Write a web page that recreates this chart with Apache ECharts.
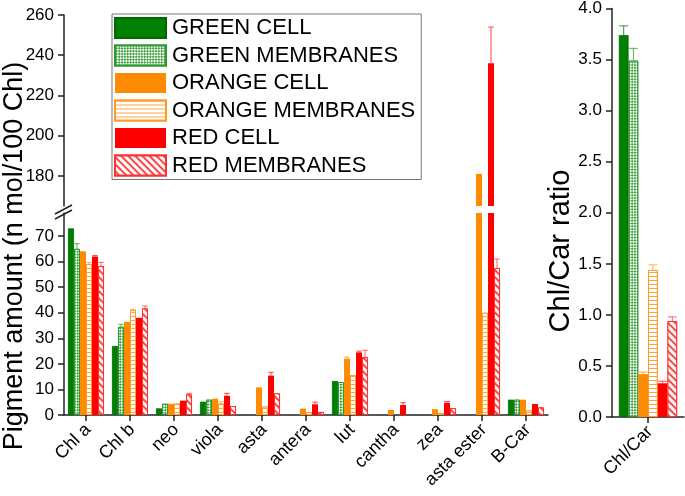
<!DOCTYPE html>
<html>
<head>
<meta charset="utf-8">
<script src="https://cdn.jsdelivr.net/npm/echarts@6/dist/echarts.min.js"></script>
<style>html,body{margin:0;padding:0;background:#fff}#c{width:685px;height:496px}</style>
</head>
<body>
<div id="c"></div>
<script>
// ---- data ----
const categories = ['Chl a','Chl b','neo','viola','asta','antera','lut','cantha','zea','asta ester','B-Car'];
const seriesNames = ['GREEN CELL','GREEN MEMBRANES','ORANGE CELL','ORANGE MEMBRANES','RED CELL','RED MEMBRANES'];
const greenCell   = [73, 27, 2.6, 5.2, 0, 0, 13.3, 0, 0, 0, 6.0];
const greenMem    = [65, 34.5, 4.4, 6.0, 0, 0, 12.9, 0, 0, 0, 6.0];
const orangeCell  = [64, 36.4, 4.4, 6.4, 10.8, 2.5, 22, 2.0, 2.3, 181, 6.0];
const orangeMem   = [59, 41, 4.5, 4.5, 3.3, 1.2, 15.6, 0, 0.8, 40, 1.8];
const redCell     = [62, 38, 5.6, 7.5, 15.4, 4.2, 24.5, 3.9, 4.8, 236, 4.3];
const redMem      = [58.3, 41.7, 8.1, 3.5, 8.5, 1.2, 22.7, 0, 2.7, 57.5, 3.0];
// upper error amounts (null = no error bar shown)
const greenCellErr  = [null,null,null,null,null,null,null,null,null,null,null];
const greenMemErr   = [2.0, 1.0, null,null,null,null,null,null,null,null,null];
const orangeCellErr = [null,null,null,null,null,null,0.6,null,null,null,null];
const orangeMemErr  = [0.6, 0.3, null,0.7,null,null,null,null,null,null,null];
const redCellErr    = [0.4, null,null,1.0,1.3,0.8,0.5,0.9,0.5,18,null];
const redMemErr     = [1.4, 0.9, 0.4,null,null,null,2.6,null,null,3.5,null];
const ratioCategories = ['Chl/Car'];
const ratioValues = [3.74, 3.49, 0.42, 1.44, 0.33, 0.94];
const ratioErr    = [0.09, 0.12, 0.02, 0.05, 0.02, 0.04];
const upperTicks = [180, 200, 220, 240, 260];
const lowerTicks = [0, 10, 20, 30, 40, 50, 60, 70];

const values = [greenCell, greenMem, orangeCell, orangeMem, redCell, redMem];
const errors = [greenCellErr, greenMemErr, orangeCellErr, orangeMemErr, redCellErr, redMemErr];

// ---- styles ----
const FONT = '"Liberation Sans", Arial, sans-serif';
const styles = [
  {color:'#008000', borderColor:'#006a00', borderWidth:0.8},
  {color:'#ffffff', borderColor:'#2e9a2e', borderWidth:1,
   decal:{symbol:'rect', color:'#3aa03a', backgroundColor:'#ffffff', dashArrayX:[[1.2,1.2],[0,1.2,1.2,0]], dashArrayY:[1.2,0], rotation:Math.PI/4}},
  {color:'#ff8c00'},
  {color:'#ffffff', borderColor:'#ff9a2a', borderWidth:1,
   decal:{symbol:'rect', color:'#ffa640', backgroundColor:'#ffffff', dashArrayX:[1,0], dashArrayY:[1,3], rotation:0}},
  {color:'#ff0000'},
  {color:'#ffffff', borderColor:'#ff3030', borderWidth:1,
   decal:{symbol:'rect', color:'#ff4545', backgroundColor:'#ffffff', dashArrayX:[1,0], dashArrayY:[1.2,3], rotation:Math.PI/4}}
];
const errColors = ['#3a8f3a','#5aaa5a','#ff9d3a','#ffb060','#ff4040','#ff6060'];

const LEFT_GAP = 0.18, RIGHT_GAP = 0.19;

function errRender(gap) {
  return function (params, api) {
    const cat = api.value(0), s = api.value(1), v = api.value(2), e = api.value(3);
    const base = api.coord([cat, v]);
    const top = api.coord([cat, v + e]);
    const bandW = api.size([1, 0])[0];
    const bw = bandW * (1 - gap) / 6;
    const x = base[0] + (s - 2.5) * bw;
    const c = errColors[s];
    return {type:'group', children:[
      {type:'line', shape:{x1:x, y1:base[1], x2:x, y2:top[1]}, style:{stroke:c, lineWidth:1}},
      {type:'line', shape:{x1:x - bw*0.45, y1:top[1], x2:x + bw*0.45, y2:top[1]}, style:{stroke:c, lineWidth:1}}
    ]};
  };
}

const series = [];
seriesNames.forEach((name, i) => {
  series.push({name, type:'bar', xAxisIndex:0, yAxisIndex:0, barGap:'0%', barCategoryGap:(LEFT_GAP*100)+'%',
    itemStyle:styles[i], data: values[i].map(v => v >= 165 ? v : '-'), silent:true});
  series.push({name, type:'bar', xAxisIndex:1, yAxisIndex:1, barGap:'0%', barCategoryGap:(LEFT_GAP*100)+'%',
    itemStyle:styles[i], data: values[i].map(v => v > 0 ? v : '-'), silent:true});
  series.push({name, type:'bar', xAxisIndex:2, yAxisIndex:2, barGap:'0%', barCategoryGap:(RIGHT_GAP*100)+'%',
    itemStyle:styles[i], data:[ratioValues[i]], silent:true});
});

const errUpper = [], errLower = [], errRight = [];
values.forEach((arr, s) => arr.forEach((v, c) => {
  const e = errors[s][c];
  if (e == null) return;
  if (v >= 165) errUpper.push([c, s, v, e]);
  else if (v + e <= 79) errLower.push([c, s, v, e]);
}));
ratioValues.forEach((v, s) => errRight.push([0, s, v, ratioErr[s]]));

series.push({type:'custom', name:'err1', xAxisIndex:0, yAxisIndex:0, renderItem:errRender(LEFT_GAP), data:errUpper, encode:{x:0, y:2}, z:5, silent:true});
series.push({type:'custom', name:'err2', xAxisIndex:1, yAxisIndex:1, renderItem:errRender(LEFT_GAP), data:errLower, encode:{x:0, y:2}, z:5, silent:true});
series.push({type:'custom', name:'err3', xAxisIndex:2, yAxisIndex:2, renderItem:errRender(RIGHT_GAP), data:errRight, encode:{x:0, y:2}, z:5, silent:true});

const axisLine = {show:true, lineStyle:{color:'#222', width:1.5}};
const tickStyle = {lineStyle:{color:'#222', width:1.5}};
const labelStyle = {color:'#000', fontSize:17, fontFamily:FONT};

// tick-only axes: points at half-category steps, ticks shown at category centres
const halfSteps = n => Array.from({length: 2 * n + 1}, (_, i) => String(i));
const centreTicks = (grid, n) => ({
  gridIndex:grid, type:'category', position:'bottom', boundaryGap:false, data:halfSteps(n),
  axisLine:{show:false}, axisLabel:{show:false}, splitLine:{show:false},
  axisTick:{show:true, length:6, interval:(idx) => idx % 2 === 1, lineStyle:{color:'#222', width:1.5}}
});

const baseGraphics = [
  {id:'ytitle', type:'text', x:15, y:256, rotation:Math.PI/2,
   style:{text:'Pigment amount (n mol/100 Chl)', font:'27px ' + FONT, fill:'#000', align:'center', verticalAlign:'middle'}},
  {id:'rtitle', type:'text', x:561, y:251, rotation:Math.PI/2,
   style:{text:'Chl/Car ratio', font:'29px ' + FONT, fill:'#000', align:'center', verticalAlign:'middle'}},
  {id:'brk1', type:'line', shape:{x1:55, y1:214, x2:72, y2:205}, style:{stroke:'#222', lineWidth:1.5}},
  {id:'brk2', type:'line', shape:{x1:55, y1:219, x2:72, y2:210}, style:{stroke:'#222', lineWidth:1.5}}
];

const option = {
  animation:false,
  textStyle:{fontFamily:FONT},
  grid:[
    {left:64, right:137, top:15, height:191},
    {left:64, right:137, top:213, bottom:81},
    {left:612, right:1, top:7, bottom:79}
  ],
  legend:{
    data:seriesNames, orient:'vertical', left:112, top:14, icon:'rect',
    itemWidth:51, itemHeight:20, itemGap:5.5, padding:[3,6,3,2],
    borderColor:'#777', borderWidth:1, backgroundColor:'#fff', selectedMode:false,
    textStyle:{fontSize:22, color:'#000', fontFamily:FONT, padding:[0,0,0,1]}
  },
  xAxis:[
    {gridIndex:0, type:'category', data:categories, axisLine:{show:false}, axisTick:{show:false}, axisLabel:{show:false}},
    {gridIndex:1, type:'category', position:'bottom', data:categories, axisLine:axisLine, axisTick:{show:false}, axisLabel:{show:false}},
    {gridIndex:2, type:'category', position:'bottom', data:ratioCategories, axisLine:axisLine, axisTick:{show:false}, axisLabel:{show:false}},
    centreTicks(1, categories.length),
    centreTicks(2, ratioCategories.length)
  ],
  yAxis:[
    {gridIndex:0, type:'value', min:165, max:260, axisLine:axisLine, splitLine:{show:false},
     axisTick:Object.assign({show:true, length:6, customValues:upperTicks}, tickStyle),
     axisLabel:Object.assign({customValues:upperTicks, margin:10}, labelStyle)},
    {gridIndex:1, type:'value', min:0, max:79, axisLine:axisLine, splitLine:{show:false},
     axisTick:Object.assign({show:true, length:6, customValues:lowerTicks}, tickStyle),
     axisLabel:Object.assign({customValues:lowerTicks, margin:10}, labelStyle)},
    {gridIndex:2, type:'value', min:0, max:4, interval:0.5, axisLine:axisLine, splitLine:{show:false},
     axisTick:Object.assign({show:true, length:6}, tickStyle),
     axisLabel:Object.assign({margin:10, formatter:v => v.toFixed(1)}, labelStyle)}
  ],
  graphic:baseGraphics,
  series
};
const chart = echarts.init(document.getElementById('c'), null, {renderer:'canvas'});
chart.setOption(option);

// rotated category labels, positioned through the axes' own scales
const labelGraphics = [];
function addLabels(names, xi, yi, prefix) {
  names.forEach((name, i) => {
    const p = chart.convertToPixel({xAxisIndex:xi, yAxisIndex:yi}, [i, 0]);
    if (!p) return;
    labelGraphics.push({id:prefix + i, type:'text', x:p[0] + 2, y:p[1] + 12, rotation:Math.PI/4,
      style:{text:name, font:'18px ' + FONT, fill:'#000', align:'right', verticalAlign:'middle'}});
  });
}
addLabels(categories, 1, 1, 'cl');
addLabels(ratioCategories, 2, 2, 'rl');
chart.setOption({graphic: baseGraphics.concat(labelGraphics)});
</script>
</body>
</html>
